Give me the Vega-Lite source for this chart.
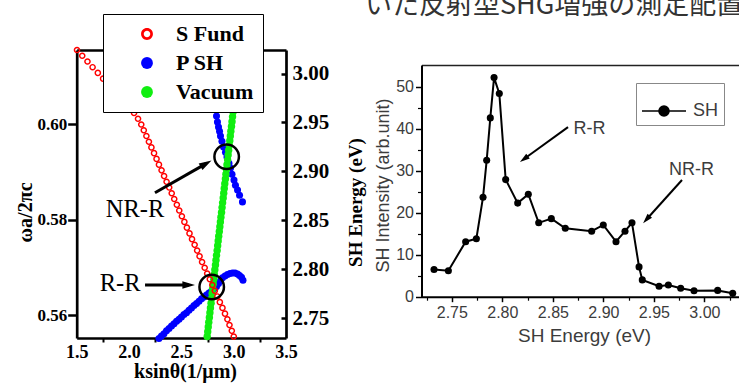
{
  "$schema": "https://vega.github.io/schema/vega-lite/v6.json",
  "width": 739,
  "height": 383,
  "autosize": {"type": "none"},
  "padding": 0,
  "background": "white",
  "config": {
    "view": {"stroke": null},
    "axis": {"grid": false, "labelFlush": false, "labelOverlap": false}
  },
  "datasets": {
    "dispersion": [
      {"series": "P SH", "k": 2.836, "w": 0.6017}, {"series": "P SH", "k": 2.845, "w": 0.6004},
      {"series": "P SH", "k": 2.855, "w": 0.5994}, {"series": "P SH", "k": 2.865, "w": 0.5985},
      {"series": "P SH", "k": 2.874, "w": 0.5975}, {"series": "P SH", "k": 2.888, "w": 0.5964},
      {"series": "P SH", "k": 2.903, "w": 0.5952}, {"series": "P SH", "k": 2.922, "w": 0.5941},
      {"series": "P SH", "k": 2.936, "w": 0.5931}, {"series": "P SH", "k": 2.955, "w": 0.5918},
      {"series": "P SH", "k": 2.970, "w": 0.5908}, {"series": "P SH", "k": 2.984, "w": 0.5895},
      {"series": "P SH", "k": 3.003, "w": 0.5883}, {"series": "P SH", "k": 3.017, "w": 0.5872},
      {"series": "P SH", "k": 3.037, "w": 0.5862}, {"series": "P SH", "k": 3.056, "w": 0.5851},
      {"series": "P SH", "k": 3.084, "w": 0.5837},
      {"series": "P SH", "k": 2.286, "w": 0.5551}, {"series": "P SH", "k": 2.310, "w": 0.5556},
      {"series": "P SH", "k": 2.334, "w": 0.5561}, {"series": "P SH", "k": 2.358, "w": 0.5567},
      {"series": "P SH", "k": 2.382, "w": 0.5572}, {"series": "P SH", "k": 2.406, "w": 0.5577},
      {"series": "P SH", "k": 2.430, "w": 0.5582}, {"series": "P SH", "k": 2.454, "w": 0.5587},
      {"series": "P SH", "k": 2.478, "w": 0.5591}, {"series": "P SH", "k": 2.501, "w": 0.5596},
      {"series": "P SH", "k": 2.525, "w": 0.5601}, {"series": "P SH", "k": 2.549, "w": 0.5605},
      {"series": "P SH", "k": 2.573, "w": 0.5610}, {"series": "P SH", "k": 2.597, "w": 0.5615},
      {"series": "P SH", "k": 2.621, "w": 0.5620}, {"series": "P SH", "k": 2.645, "w": 0.5624},
      {"series": "P SH", "k": 2.669, "w": 0.5629}, {"series": "P SH", "k": 2.693, "w": 0.5634},
      {"series": "P SH", "k": 2.716, "w": 0.5638}, {"series": "P SH", "k": 2.740, "w": 0.5642},
      {"series": "P SH", "k": 2.764, "w": 0.5646}, {"series": "P SH", "k": 2.788, "w": 0.5650},
      {"series": "P SH", "k": 2.812, "w": 0.5655}, {"series": "P SH", "k": 2.836, "w": 0.5660},
      {"series": "P SH", "k": 2.855, "w": 0.5666}, {"series": "P SH", "k": 2.874, "w": 0.5672},
      {"series": "P SH", "k": 2.893, "w": 0.5678}, {"series": "P SH", "k": 2.917, "w": 0.5682},
      {"series": "P SH", "k": 2.941, "w": 0.5685}, {"series": "P SH", "k": 2.965, "w": 0.5687},
      {"series": "P SH", "k": 2.989, "w": 0.5688}, {"series": "P SH", "k": 3.013, "w": 0.5688},
      {"series": "P SH", "k": 3.037, "w": 0.5686}, {"series": "P SH", "k": 3.056, "w": 0.5683},
      {"series": "P SH", "k": 3.075, "w": 0.5679}, {"series": "P SH", "k": 3.089, "w": 0.5673},
      {"series": "Vacuum", "k": 2.747, "w": 0.5555}, {"series": "Vacuum", "k": 2.752, "w": 0.5565},
      {"series": "Vacuum", "k": 2.757, "w": 0.5575}, {"series": "Vacuum", "k": 2.762, "w": 0.5585},
      {"series": "Vacuum", "k": 2.768, "w": 0.5595}, {"series": "Vacuum", "k": 2.773, "w": 0.5605},
      {"series": "Vacuum", "k": 2.778, "w": 0.5615}, {"series": "Vacuum", "k": 2.784, "w": 0.5625},
      {"series": "Vacuum", "k": 2.789, "w": 0.5635}, {"series": "Vacuum", "k": 2.794, "w": 0.5645},
      {"series": "Vacuum", "k": 2.799, "w": 0.5655}, {"series": "Vacuum", "k": 2.805, "w": 0.5665},
      {"series": "Vacuum", "k": 2.810, "w": 0.5675}, {"series": "Vacuum", "k": 2.815, "w": 0.5685},
      {"series": "Vacuum", "k": 2.820, "w": 0.5695}, {"series": "Vacuum", "k": 2.826, "w": 0.5705},
      {"series": "Vacuum", "k": 2.831, "w": 0.5715}, {"series": "Vacuum", "k": 2.836, "w": 0.5725},
      {"series": "Vacuum", "k": 2.842, "w": 0.5735}, {"series": "Vacuum", "k": 2.847, "w": 0.5745},
      {"series": "Vacuum", "k": 2.852, "w": 0.5755}, {"series": "Vacuum", "k": 2.857, "w": 0.5765},
      {"series": "Vacuum", "k": 2.863, "w": 0.5775}, {"series": "Vacuum", "k": 2.868, "w": 0.5785},
      {"series": "Vacuum", "k": 2.873, "w": 0.5795}, {"series": "Vacuum", "k": 2.878, "w": 0.5805},
      {"series": "Vacuum", "k": 2.884, "w": 0.5815}, {"series": "Vacuum", "k": 2.889, "w": 0.5825},
      {"series": "Vacuum", "k": 2.894, "w": 0.5835}, {"series": "Vacuum", "k": 2.900, "w": 0.5845},
      {"series": "Vacuum", "k": 2.905, "w": 0.5855}, {"series": "Vacuum", "k": 2.910, "w": 0.5865},
      {"series": "Vacuum", "k": 2.915, "w": 0.5875}, {"series": "Vacuum", "k": 2.921, "w": 0.5885},
      {"series": "Vacuum", "k": 2.926, "w": 0.5895}, {"series": "Vacuum", "k": 2.931, "w": 0.5905},
      {"series": "Vacuum", "k": 2.936, "w": 0.5915}, {"series": "Vacuum", "k": 2.942, "w": 0.5925},
      {"series": "Vacuum", "k": 2.947, "w": 0.5935}, {"series": "Vacuum", "k": 2.952, "w": 0.5945},
      {"series": "Vacuum", "k": 2.958, "w": 0.5955}, {"series": "Vacuum", "k": 2.963, "w": 0.5965},
      {"series": "Vacuum", "k": 2.968, "w": 0.5975}, {"series": "Vacuum", "k": 2.973, "w": 0.5985},
      {"series": "Vacuum", "k": 2.979, "w": 0.5995}, {"series": "Vacuum", "k": 2.984, "w": 0.6005},
      {"series": "Vacuum", "k": 2.989, "w": 0.6015}, {"series": "Vacuum", "k": 2.994, "w": 0.6025},
      {"series": "Vacuum", "k": 3.000, "w": 0.6035}, {"series": "Vacuum", "k": 3.005, "w": 0.6045},
      {"series": "Vacuum", "k": 3.010, "w": 0.6055}, {"series": "Vacuum", "k": 3.016, "w": 0.6065},
      {"series": "Vacuum", "k": 3.021, "w": 0.6075}, {"series": "Vacuum", "k": 3.026, "w": 0.6085},
      {"series": "Vacuum", "k": 3.031, "w": 0.6095}, {"series": "Vacuum", "k": 3.037, "w": 0.6105},
      {"series": "Vacuum", "k": 3.042, "w": 0.6115}, {"series": "Vacuum", "k": 3.047, "w": 0.6125},
      {"series": "Vacuum", "k": 3.052, "w": 0.6135}, {"series": "Vacuum", "k": 3.058, "w": 0.6145},
      {"series": "Vacuum", "k": 3.063, "w": 0.6155},
      {"series": "S Fund", "k": 1.503, "w": 0.6155}, {"series": "S Fund", "k": 1.553, "w": 0.6143},
      {"series": "S Fund", "k": 1.603, "w": 0.6131}, {"series": "S Fund", "k": 1.652, "w": 0.6119},
      {"series": "S Fund", "k": 1.702, "w": 0.6107}, {"series": "S Fund", "k": 1.752, "w": 0.6095},
      {"series": "S Fund", "k": 1.802, "w": 0.6083}, {"series": "S Fund", "k": 1.852, "w": 0.6071},
      {"series": "S Fund", "k": 1.904, "w": 0.6059}, {"series": "S Fund", "k": 1.957, "w": 0.6047},
      {"series": "S Fund", "k": 2.005, "w": 0.6035}, {"series": "S Fund", "k": 2.048, "w": 0.6023},
      {"series": "S Fund", "k": 2.086, "w": 0.6011}, {"series": "S Fund", "k": 2.117, "w": 0.5999},
      {"series": "S Fund", "k": 2.141, "w": 0.5987}, {"series": "S Fund", "k": 2.166, "w": 0.5975},
      {"series": "S Fund", "k": 2.190, "w": 0.5963}, {"series": "S Fund", "k": 2.214, "w": 0.5951},
      {"series": "S Fund", "k": 2.239, "w": 0.5939}, {"series": "S Fund", "k": 2.263, "w": 0.5927},
      {"series": "S Fund", "k": 2.286, "w": 0.5915}, {"series": "S Fund", "k": 2.311, "w": 0.5903},
      {"series": "S Fund", "k": 2.335, "w": 0.5891}, {"series": "S Fund", "k": 2.359, "w": 0.5879},
      {"series": "S Fund", "k": 2.384, "w": 0.5867}, {"series": "S Fund", "k": 2.408, "w": 0.5855},
      {"series": "S Fund", "k": 2.432, "w": 0.5843}, {"series": "S Fund", "k": 2.457, "w": 0.5831},
      {"series": "S Fund", "k": 2.480, "w": 0.5819}, {"series": "S Fund", "k": 2.505, "w": 0.5807},
      {"series": "S Fund", "k": 2.529, "w": 0.5795}, {"series": "S Fund", "k": 2.553, "w": 0.5783},
      {"series": "S Fund", "k": 2.578, "w": 0.5771}, {"series": "S Fund", "k": 2.602, "w": 0.5759},
      {"series": "S Fund", "k": 2.627, "w": 0.5747}, {"series": "S Fund", "k": 2.651, "w": 0.5735},
      {"series": "S Fund", "k": 2.674, "w": 0.5723}, {"series": "S Fund", "k": 2.698, "w": 0.5711},
      {"series": "S Fund", "k": 2.723, "w": 0.5699}, {"series": "S Fund", "k": 2.747, "w": 0.5687},
      {"series": "S Fund", "k": 2.772, "w": 0.5675}, {"series": "S Fund", "k": 2.796, "w": 0.5663},
      {"series": "S Fund", "k": 2.820, "w": 0.5651}, {"series": "S Fund", "k": 2.844, "w": 0.5639},
      {"series": "S Fund", "k": 2.868, "w": 0.5627}, {"series": "S Fund", "k": 2.893, "w": 0.5615},
      {"series": "S Fund", "k": 2.917, "w": 0.5603}, {"series": "S Fund", "k": 2.940, "w": 0.5591},
      {"series": "S Fund", "k": 2.960, "w": 0.5579}, {"series": "S Fund", "k": 2.982, "w": 0.5567},
      {"series": "S Fund", "k": 3.001, "w": 0.5555}
    ],
    "rings": [
      {"name": "NR-R", "k": 2.933, "E": 2.915},
      {"name": "R-R", "k": 2.790, "E": 2.782}
    ],
    "arrowsLeft": [
      {"name": "NR-R", "k": 2.248, "w": 0.5856, "k2": 2.736, "w2": 0.5917},
      {"name": "R-R", "k": 2.153, "w": 0.5663, "k2": 2.570, "w2": 0.5663}
    ],
    "labelsLeft": [
      {"label": "NR-R", "k": 2.058, "E": 2.8607},
      {"label": "R-R", "k": 1.915, "E": 2.7851}
    ],
    "sh": [
      {"series": "SH", "E": 2.7324, "I": 6.5}, {"series": "SH", "E": 2.7466, "I": 6.2},
      {"series": "SH", "E": 2.7637, "I": 13.1}, {"series": "SH", "E": 2.7743, "I": 13.8},
      {"series": "SH", "E": 2.7809, "I": 23.7}, {"series": "SH", "E": 2.7845, "I": 32.5},
      {"series": "SH", "E": 2.7881, "I": 42.6}, {"series": "SH", "E": 2.7918, "I": 52.2},
      {"series": "SH", "E": 2.7970, "I": 48.4}, {"series": "SH", "E": 2.8033, "I": 27.9},
      {"series": "SH", "E": 2.8152, "I": 22.3}, {"series": "SH", "E": 2.8257, "I": 24.4},
      {"series": "SH", "E": 2.8360, "I": 17.6}, {"series": "SH", "E": 2.8485, "I": 18.6},
      {"series": "SH", "E": 2.8623, "I": 16.3}, {"series": "SH", "E": 2.8884, "I": 15.6},
      {"series": "SH", "E": 2.8999, "I": 17.1}, {"series": "SH", "E": 2.9125, "I": 13.1},
      {"series": "SH", "E": 2.9214, "I": 15.6}, {"series": "SH", "E": 2.9283, "I": 17.6},
      {"series": "SH", "E": 2.9353, "I": 7.1}, {"series": "SH", "E": 2.9385, "I": 4.0},
      {"series": "SH", "E": 2.9551, "I": 2.5}, {"series": "SH", "E": 2.9643, "I": 2.8},
      {"series": "SH", "E": 2.9765, "I": 2.0}, {"series": "SH", "E": 2.9897, "I": 1.4},
      {"series": "SH", "E": 3.0131, "I": 1.5}, {"series": "SH", "E": 3.0280, "I": 0.8}
    ],
    "arrowsRight": [
      {"name": "R-R", "E": 2.865, "I": 40.4, "E2": 2.8214, "I2": 32.8},
      {"name": "NR-R", "E": 2.9778, "I": 27.8, "E2": 2.9426, "I2": 18.4}
    ],
    "labelsRight": [
      {"label": "R-R", "E": 2.8863, "I": 40.05},
      {"label": "NR-R", "E": 2.9872, "I": 30.17}
    ],
    "caption": [
      {"text": "いた反射型SHG増強の測定配置", "E": 2.6641, "I": 67.3}
    ]
  },
  "resolve": {
    "scale": {"x": "independent", "y": "independent", "color": "independent", "shape": "independent"},
    "axis": {"x": "independent", "y": "independent"},
    "legend": {"color": "independent", "shape": "independent"}
  },
  "layer": [
    {
      "data": {"name": "dispersion"},
      "mark": {"type": "point", "filled": true, "opacity": 1},
      "encoding": {
        "x": {
          "field": "k", "type": "quantitative",
          "scale": {"domain": [1.5, 3.5], "range": [76.7, 286], "zero": false, "nice": false},
          "axis": {
            "orient": "bottom", "offset": -45, "values": [1.5, 2, 2.5, 3, 3.5], "format": ".1f",
            "ticks": false, "labelPadding": 5,
            "labelFont": "Liberation Serif", "labelFontWeight": "bold", "labelFontSize": 18, "labelColor": "black",
            "domainColor": "black", "domainWidth": 2.7,
            "title": "ksinθ(1/μm)", "titleX": 185, "titleY": 39.5, "titleBaseline": "alphabetic", "titleAlign": "center",
            "titleFont": "Liberation Serif", "titleFontWeight": "bold", "titleFontSize": 20, "titleColor": "black"
          }
        },
        "y": {
          "field": "w", "type": "quantitative",
          "scale": {"domain": [0.5552, 0.6155], "range": [338, 50], "zero": false, "nice": false},
          "axis": {
            "orient": "left", "offset": -76.7, "values": [0.56, 0.58, 0.6], "format": ".2f",
            "tickSize": 9, "tickWidth": 2.5, "tickColor": "black", "labelPadding": 1,
            "labelFont": "Liberation Serif", "labelFontWeight": "bold", "labelFontSize": 17, "labelColor": "black",
            "domainColor": "black", "domainWidth": 2.7,
            "title": "ωa/2πc", "titleX": -51, "titleY": 212, "titleAngle": 270, "titleAlign": "center", "titleBaseline": "middle",
            "titleFont": "Liberation Serif", "titleFontWeight": "bold", "titleFontSize": 20, "titleColor": "black"
          }
        },
        "color": {
          "field": "series", "type": "nominal",
          "scale": {"domain": ["S Fund", "P SH", "Vacuum"], "range": ["#ff0000", "#0000ff", "#11ee11"]},
          "legend": {
            "orient": "none", "legendX": 103, "legendY": 14, "title": null, "padding": 9,
            "fillColor": "white", "strokeColor": "black",
            "labelFont": "Liberation Serif", "labelFontWeight": "bold", "labelFontSize": 22, "labelColor": "black", "labelLimit": 300,
            "symbolSize": 140, "symbolStrokeWidth": 0, "symbolOffset": 24, "labelOffset": 18, "rowPadding": 7
          }
        },
        "shape": {
          "field": "series", "type": "nominal",
          "scale": {
            "domain": ["S Fund", "P SH", "Vacuum"],
            "range": ["M1,0A1,1,0,1,1,-1,0A1,1,0,1,1,1,0ZM0.55,0A0.55,0.55,0,1,0,-0.55,0A0.55,0.55,0,1,0,0.55,0Z", "circle", "circle"]
          },
          "legend": {
            "orient": "none", "legendX": 103, "legendY": 14, "title": null, "padding": 9,
            "fillColor": "white", "strokeColor": "black",
            "labelFont": "Liberation Serif", "labelFontWeight": "bold", "labelFontSize": 22, "labelColor": "black", "labelLimit": 300,
            "symbolSize": 140, "symbolStrokeWidth": 0, "symbolOffset": 24, "labelOffset": 18, "rowPadding": 7
          }
        },
        "size": {
          "field": "series", "type": "nominal",
          "scale": {"domain": ["S Fund", "P SH", "Vacuum"], "range": [44, 55, 24]},
          "legend": null
        }
      }
    },
    {
      "data": {"name": "rings"},
      "mark": {"type": "point", "shape": "circle", "size": 600, "strokeWidth": 2.5, "color": "black", "filled": false, "opacity": 1},
      "encoding": {
        "x": {
          "field": "k", "type": "quantitative",
          "scale": {"domain": [1.5, 3.5], "range": [76.7, 286], "zero": false, "nice": false},
          "axis": {
            "orient": "bottom", "offset": -45, "values": [1.75, 2.25, 2.75, 3.25],
            "labels": false, "domain": false, "ticks": true, "tickSize": 4, "tickWidth": 2, "tickColor": "black", "title": null
          }
        },
        "y": {
          "field": "E", "type": "quantitative",
          "scale": {"domain": [2.73, 3.024], "range": [338, 50], "zero": false, "nice": false},
          "axis": {
            "orient": "right", "offset": -453, "values": [2.75, 2.8, 2.85, 2.9, 2.95, 3.0], "format": ".2f",
            "ticks": false, "labelPadding": 6,
            "labelFont": "Liberation Serif", "labelFontWeight": "bold", "labelFontSize": 21, "labelColor": "black",
            "domainColor": "black", "domainWidth": 2.7,
            "title": "SH Energy (eV)", "titleX": 69, "titleY": 202, "titleAngle": 270, "titleAlign": "center", "titleBaseline": "middle",
            "titleFont": "Liberation Serif", "titleFontWeight": "bold", "titleFontSize": 19, "titleColor": "black"
          }
        }
      }
    },
    {
      "data": {"name": "arrowsLeft"},
      "mark": {"type": "rule", "strokeWidth": 3, "color": "black"},
      "encoding": {
        "x": {
          "field": "k", "type": "quantitative",
          "scale": {"domain": [1.5, 3.5], "range": [76.7, 286], "zero": false, "nice": false},
          "axis": {"orient": "top", "offset": -50, "labels": false, "ticks": false, "domainColor": "black", "domainWidth": 2.7, "title": null}
        },
        "x2": {"field": "k2"},
        "y": {
          "field": "w", "type": "quantitative",
          "scale": {"domain": [0.5552, 0.6155], "range": [338, 50], "zero": false, "nice": false},
          "axis": null
        },
        "y2": {"field": "w2"}
      }
    },
    {
      "data": {"name": "arrowsLeft"},
      "transform": [{"filter": "datum.name === 'NR-R'"}],
      "mark": {"type": "point", "shape": "M0,-1L0.6,1L-0.6,1Z", "size": 160, "angle": 60, "filled": true, "color": "black", "opacity": 1},
      "encoding": {
        "x": {"field": "k2", "type": "quantitative", "scale": {"domain": [1.5, 3.5], "range": [76.7, 286], "zero": false, "nice": false}, "axis": null},
        "y": {"field": "w2", "type": "quantitative", "scale": {"domain": [0.5552, 0.6155], "range": [338, 50], "zero": false, "nice": false}, "axis": null}
      }
    },
    {
      "data": {"name": "arrowsLeft"},
      "transform": [{"filter": "datum.name === 'R-R'"}],
      "mark": {"type": "point", "shape": "M0,-1L0.6,1L-0.6,1Z", "size": 160, "angle": 90, "filled": true, "color": "black", "opacity": 1},
      "encoding": {
        "x": {"field": "k2", "type": "quantitative", "scale": {"domain": [1.5, 3.5], "range": [76.7, 286], "zero": false, "nice": false}, "axis": null},
        "y": {"field": "w2", "type": "quantitative", "scale": {"domain": [0.5552, 0.6155], "range": [338, 50], "zero": false, "nice": false}, "axis": null}
      }
    },
    {
      "data": {"name": "labelsLeft"},
      "mark": {"type": "text", "font": "Liberation Serif", "fontSize": 24.5, "color": "black", "align": "center", "baseline": "middle"},
      "encoding": {
        "x": {"field": "k", "type": "quantitative", "scale": {"domain": [1.5, 3.5], "range": [76.7, 286], "zero": false, "nice": false}, "axis": null},
        "y": {
          "field": "E", "type": "quantitative",
          "scale": {"domain": [2.73, 3.024], "range": [338, 50], "zero": false, "nice": false},
          "axis": {"orient": "left", "offset": -286, "values": [2.75, 2.8, 2.85, 2.9, 2.95, 3.0], "labels": false, "domain": false, "tickSize": 5, "tickWidth": 2.5, "tickColor": "black", "title": null}
        },
        "text": {"field": "label"}
      }
    },
    {
      "data": {"name": "sh"},
      "mark": {"type": "line", "color": "black", "strokeWidth": 2, "point": {"filled": true, "size": 50, "color": "black", "opacity": 1}},
      "encoding": {
        "x": {
          "field": "E", "type": "quantitative",
          "scale": {"domain": [2.72, 3.055], "range": [421.5, 760], "zero": false, "nice": false},
          "axis": {
            "orient": "bottom", "offset": -86.3, "values": [2.75, 2.8, 2.85, 2.9, 2.95, 3.0], "format": ".2f",
            "tickSize": 5, "tickWidth": 1.5, "tickColor": "black", "labelPadding": 3,
            "labelFont": "Liberation Sans", "labelFontSize": 16, "labelColor": "#3c3c3c",
            "domainColor": "black", "domainWidth": 2,
            "title": "SH Energy (eV)", "titleX": 584, "titleY": 45, "titleBaseline": "alphabetic", "titleAlign": "center",
            "titleFont": "Liberation Sans", "titleFontWeight": "normal", "titleFontSize": 19, "titleColor": "#3c3c3c"
          }
        },
        "y": {
          "field": "I", "type": "quantitative",
          "scale": {"domain": [0, 55.2], "range": [296.7, 65], "zero": false, "nice": false},
          "axis": {
            "orient": "left", "offset": -421.5, "values": [0, 10, 20, 30, 40, 50],
            "tickSize": 6, "tickWidth": 1.5, "tickColor": "black", "labelPadding": 2,
            "labelFont": "Liberation Sans", "labelFontSize": 16, "labelColor": "#3c3c3c",
            "domainColor": "black", "domainWidth": 2,
            "title": "SH Intensity (arb.unit)", "titleX": -38.5, "titleY": 185, "titleAngle": 270, "titleAlign": "center", "titleBaseline": "middle",
            "titleFont": "Liberation Sans", "titleFontWeight": "normal", "titleFontSize": 18, "titleColor": "#3c3c3c"
          }
        },
        "color": {
          "field": "series", "type": "nominal",
          "scale": {"domain": ["SH"], "range": ["black"]},
          "legend": {
            "orient": "none", "legendX": 636, "legendY": 83, "title": null, "padding": 5,
            "fillColor": "white", "strokeColor": "#888888",
            "labelFont": "Liberation Sans", "labelFontSize": 18, "labelColor": "#3c3c3c", "labelOffset": 6,
            "symbolType": "M-1,0L1,0M0.23,0A0.23,0.23,0,1,1,-0.23,0A0.23,0.23,0,1,1,0.23,0Z",
            "symbolSize": 1936, "symbolStrokeWidth": 1.5,
            "encode": {
              "symbols": {"update": {"fill": {"value": "black"}, "stroke": {"value": "black"}, "strokeWidth": {"value": 1.5}, "opacity": {"value": 1}}}
            }
          }
        }
      }
    },
    {
      "data": {"name": "arrowsRight"},
      "mark": {"type": "rule", "strokeWidth": 2, "color": "black"},
      "encoding": {
        "x": {
          "field": "E", "type": "quantitative",
          "scale": {"domain": [2.72, 3.055], "range": [421.5, 760], "zero": false, "nice": false},
          "axis": {"orient": "top", "offset": -65, "labels": false, "ticks": false, "domainColor": "#222222", "domainWidth": 1.5, "title": null}
        },
        "x2": {"field": "E2"},
        "y": {
          "field": "I", "type": "quantitative",
          "scale": {"domain": [0, 55.2], "range": [296.7, 65], "zero": false, "nice": false},
          "axis": {"orient": "left", "offset": -421.5, "values": [5, 15, 25, 35, 45], "labels": false, "domain": false, "tickSize": 4, "tickWidth": 1.2, "tickColor": "black", "title": null}
        },
        "y2": {"field": "I2"}
      }
    },
    {
      "data": {"name": "arrowsRight"},
      "transform": [{"filter": "datum.name === 'R-R'"}],
      "mark": {"type": "point", "shape": "M0,-1L0.6,1L-0.6,1Z", "size": 100, "angle": 234, "filled": true, "color": "black", "opacity": 1},
      "encoding": {
        "x": {
          "field": "E2", "type": "quantitative",
          "scale": {"domain": [2.72, 3.055], "range": [421.5, 760], "zero": false, "nice": false},
          "axis": {"orient": "bottom", "offset": -86.3, "values": [2.725, 2.775, 2.825, 2.875, 2.925, 2.975, 3.025], "labels": false, "domain": false, "tickSize": 3.5, "tickWidth": 1.2, "tickColor": "black", "title": null}
        },
        "y": {"field": "I2", "type": "quantitative", "scale": {"domain": [0, 55.2], "range": [296.7, 65], "zero": false, "nice": false}, "axis": null}
      }
    },
    {
      "data": {"name": "arrowsRight"},
      "transform": [{"filter": "datum.name === 'NR-R'"}],
      "mark": {"type": "point", "shape": "M0,-1L0.6,1L-0.6,1Z", "size": 100, "angle": 222, "filled": true, "color": "black", "opacity": 1},
      "encoding": {
        "x": {"field": "E2", "type": "quantitative", "scale": {"domain": [2.72, 3.055], "range": [421.5, 760], "zero": false, "nice": false}, "axis": null},
        "y": {"field": "I2", "type": "quantitative", "scale": {"domain": [0, 55.2], "range": [296.7, 65], "zero": false, "nice": false}, "axis": null}
      }
    },
    {
      "data": {"name": "labelsRight"},
      "mark": {"type": "text", "font": "Liberation Sans", "fontSize": 18, "color": "#3c3c3c", "align": "center", "baseline": "middle"},
      "encoding": {
        "x": {"field": "E", "type": "quantitative", "scale": {"domain": [2.72, 3.055], "range": [421.5, 760], "zero": false, "nice": false}, "axis": null},
        "y": {"field": "I", "type": "quantitative", "scale": {"domain": [0, 55.2], "range": [296.7, 65], "zero": false, "nice": false}, "axis": null},
        "text": {"field": "label"}
      }
    },
    {
      "data": {"name": "caption"},
      "mark": {"type": "text", "font": "Noto Sans CJK JP", "fontSize": 27, "color": "#333333", "align": "left", "baseline": "alphabetic"},
      "encoding": {
        "x": {"field": "E", "type": "quantitative", "scale": {"domain": [2.72, 3.055], "range": [421.5, 760], "zero": false, "nice": false}, "axis": null},
        "y": {"field": "I", "type": "quantitative", "scale": {"domain": [0, 55.2], "range": [296.7, 65], "zero": false, "nice": false}, "axis": null},
        "text": {"field": "text"}
      }
    }
  ]
}
